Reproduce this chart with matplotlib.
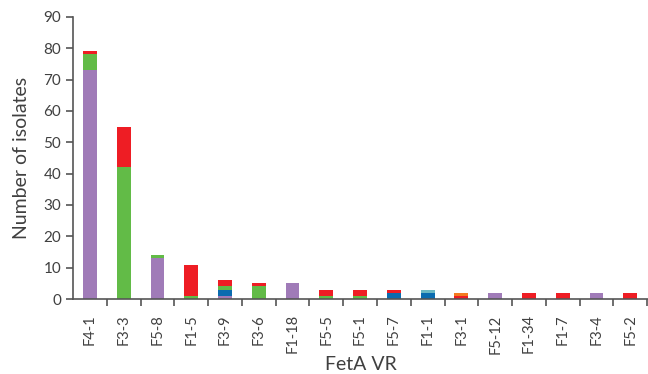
import numpy as np
import matplotlib
matplotlib.use("Agg")
import matplotlib.pyplot as plt

plt.rcParams['font.family'] = ['Lato', 'DejaVu Sans']

labels = ['F4-1', 'F3-3', 'F5-8', 'F1-5', 'F3-9', 'F3-6', 'F1-18', 'F5-5', 'F5-1',
          'F5-7', 'F1-1', 'F3-1', 'F5-12', 'F1-34', 'F1-7', 'F3-4', 'F5-2']
purple = [73, 0, 13, 0, 1, 0, 5, 0, 0, 0, 0, 0, 2, 0, 0, 2, 0]
blue   = [0, 0, 0, 0, 2, 0, 0, 0, 0, 2, 2, 0, 0, 0, 0, 0, 0]
teal   = [0, 0, 0, 0, 0, 0, 0, 0, 0, 0, 1, 0, 0, 0, 0, 0, 0]
green  = [5, 42, 1, 1, 1, 4, 0, 1, 1, 0, 0, 0, 0, 0, 0, 0, 0]
red    = [1, 13, 0, 10, 2, 1, 0, 2, 2, 1, 0, 1, 0, 2, 2, 0, 2]
orange = [0, 0, 0, 0, 0, 0, 0, 0, 0, 0, 0, 1, 0, 0, 0, 0, 0]

series = [(purple, '#A07BB8'), (blue, '#0B6BAF'), (teal, '#6BB7C2'),
          (green, '#62BB47'), (red, '#EE1D24'), (orange, '#F47B20')]

fig = plt.figure(figsize=(6.48, 3.74), dpi=100)
ax = fig.add_axes([0.1127, 0.2005, 0.887, 0.7545])

x = np.arange(len(labels))
bottom = np.zeros(len(labels))
for vals, col in series:
    ax.bar(x, vals, 0.41, bottom=bottom, color=col, edgecolor='none')
    bottom += np.array(vals)

txt = '#404040'
ax.set_xlim(-0.5, len(labels) - 0.48)
ax.set_ylim(0, 90)
ax.set_yticks(range(0, 91, 10))
ax.set_xticks(x)
ax.set_xticklabels(labels, rotation=90, fontsize=10.5, color=txt)
ax.set_xticks(np.arange(len(labels)) + 0.5, minor=True)
ax.tick_params(axis='x', which='major', length=0, pad=11)
ax.tick_params(axis='x', which='minor', length=5, width=1.2, color='#555555', direction='out')
ax.tick_params(axis='y', length=5, width=1.2, color='#555555', labelsize=11, labelcolor=txt)
for s in ['top', 'right']:
    ax.spines[s].set_visible(False)
for s in ['left', 'bottom']:
    ax.spines[s].set_color('#555555')
    ax.spines[s].set_linewidth(1.2)

ax.set_xlabel('FetA VR', fontsize=14, color=txt, labelpad=2)
ax.set_ylabel('Number of isolates', fontsize=14, color=txt, labelpad=10)

fig.savefig('out.png', dpi=100)
